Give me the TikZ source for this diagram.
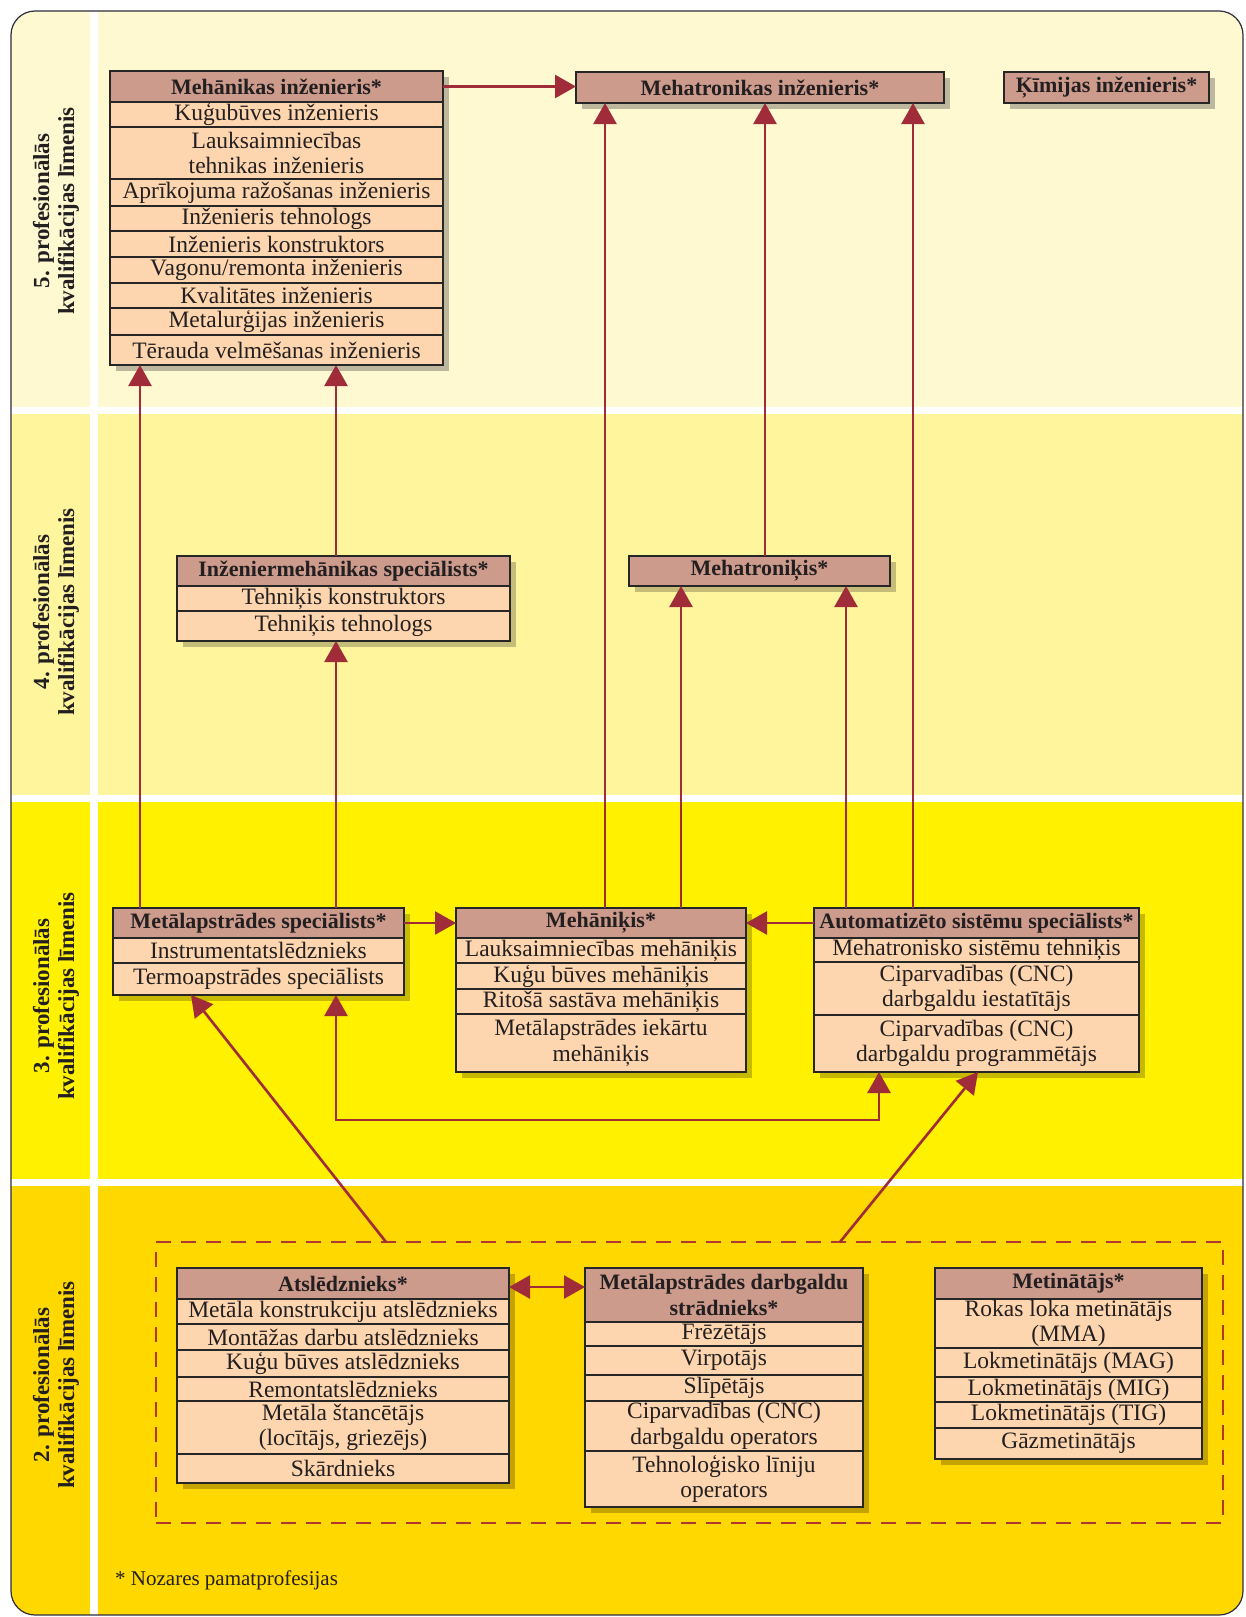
\documentclass[tikz,border=0pt]{standalone}
\usepackage{fontspec}
\setmainfont{Liberation Serif}
\usetikzlibrary{arrows.meta}
\definecolor{bandA}{HTML}{FFF9D2}
\definecolor{bandB}{HTML}{FFF59D}
\definecolor{bandC}{HTML}{FFF100}
\definecolor{bandD}{HTML}{FFD800}
\definecolor{shA}{HTML}{BDB89D}
\definecolor{shB}{HTML}{C6BC7A}
\definecolor{shC}{HTML}{C7B800}
\definecolor{shD}{HTML}{C5A300}
\definecolor{hdrc}{HTML}{CD9B8C}
\definecolor{rowc}{HTML}{FDD5AE}
\definecolor{arrc}{HTML}{A02B39}
\definecolor{dashc}{HTML}{B2372F}
\definecolor{txtc}{HTML}{231F20}
\definecolor{framec}{HTML}{2E2E3E}
\pgfdeclarelayer{bands}
\pgfdeclarelayer{shadows}
\pgfsetlayers{bands,shadows,main}
\newcommand{\cellbox}[7]{\node[#1, minimum width={#4-#3}, minimum height={#6-#5}] (#2) at ({(#3+#4)/2},{(#5+#6)/2}) {#7};}
\newcommand{\shadowbox}[3]{\fill[#1] ([shift={(6,6)}]#2.north west) rectangle ([shift={(6,6)}]#3.south east);}
\begin{document}
\begin{tikzpicture}[x=1pt,y=-1pt,
  cell/.style={draw=black!85, line width=1.3pt, inner sep=0pt, outer sep=0pt, align=center, text=txtc},
  hdr/.style={cell, fill=hdrc, font=\fontsize{22}{25.5}\selectfont\bfseries},
  row/.style={cell, fill=rowc, font=\fontsize{23.5}{25.5}\selectfont},
  lvl/.style={rotate=90, align=center, text=txtc, font=\fontsize{23}{25}\selectfont\bfseries},
  arr/.style={draw=arrc, line width=2.6pt, -{Triangle[length=21pt,width=23pt]}},
  darr/.style={draw=arrc, line width=2.6pt, {Triangle[length=21pt,width=23pt]}-{Triangle[length=21pt,width=23pt]}},
  dashbox/.style={draw=dashc, line width=2.5pt, dash pattern=on 15pt off 10pt, inner sep=0pt, outer sep=0pt},
  note/.style={text=txtc, font=\fontsize{21}{24}\selectfont, inner sep=0pt}
]
\useasboundingbox (0,0) rectangle (1245,1617);
% ---------------- bands ----------------
\begin{pgfonlayer}{bands}
\fill[white] (0,0) rectangle (1245,1617);
\begin{scope}
\clip[rounded corners=24pt] (11,11) rectangle (1243,1615);
\fill[bandA] (11,11) rectangle (90,407);
\fill[bandA] (97.5,11) rectangle (1243,407);
\fill[bandB] (11,414) rectangle (90,795);
\fill[bandB] (97.5,414) rectangle (1243,795);
\fill[bandC] (11,802) rectangle (90,1179);
\fill[bandC] (97.5,802) rectangle (1243,1179);
\fill[bandD] (11,1186) rectangle (90,1615);
\fill[bandD] (97.5,1186) rectangle (1243,1615);
\end{scope}
\draw[framec, line width=1.2pt, rounded corners=24pt] (11,11) rectangle (1243,1615);
\end{pgfonlayer}

% ---------------- level labels ----------------
\node[lvl] (l5) at (56,211) {5. profesionālās\\kvalifikācijas līmenis};
\node[lvl] (l4) at (56,612) {4. profesionālās\\kvalifikācijas līmenis};
\node[lvl] (l3) at (56,996) {3. profesionālās\\kvalifikācijas līmenis};
\node[lvl] (l2) at (56,1385) {2. profesionālās\\kvalifikācijas līmenis};

% ---------------- level 5 ----------------
\cellbox{hdr}{m5h}{110}{443}{71}{102}{Mehānikas inženieris*}
\cellbox{row}{m5r1}{110}{443}{102}{127}{Kuģubūves inženieris}
\cellbox{row}{m5r2}{110}{443}{127}{179}{Lauksaimniecības\\tehnikas inženieris}
\cellbox{row}{m5r3}{110}{443}{179}{206}{Aprīkojuma ražošanas inženieris}
\cellbox{row}{m5r4}{110}{443}{206}{231}{Inženieris tehnologs}
\cellbox{row}{m5r5}{110}{443}{231}{257}{Inženieris konstruktors}
\cellbox{row}{m5r6}{110}{443}{257}{283}{Vagonu/remonta inženieris}
\cellbox{row}{m5r7}{110}{443}{283}{308}{Kvalitātes inženieris}
\cellbox{row}{m5r8}{110}{443}{308}{335}{Metalurģijas inženieris}
\cellbox{row}{m5r9}{110}{443}{335}{365}{Tērauda velmēšanas inženieris}
\cellbox{hdr}{mt5}{576}{944}{72}{103}{Mehatronikas inženieris*}
\cellbox{hdr}{km5}{1004}{1209}{72}{103}{Ķīmijas inženieris*}

% ---------------- level 4 ----------------
\cellbox{hdr}{im4h}{177}{510}{556}{586}{Inženiermehānikas speciālists*}
\cellbox{row}{im4r1}{177}{510}{586}{611}{Tehniķis konstruktors}
\cellbox{row}{im4r2}{177}{510}{611}{641}{Tehniķis tehnologs}
\cellbox{hdr}{mtk4}{629}{890}{556}{586}{Mehatroniķis*}

% ---------------- level 3 ----------------
\cellbox{hdr}{ms3h}{113}{404}{908}{938}{Metālapstrādes speciālists*}
\cellbox{row}{ms3r1}{113}{404}{938}{963}{Instrumentatslēdznieks}
\cellbox{row}{ms3r2}{113}{404}{963}{995}{Termoapstrādes speciālists}
\cellbox{hdr}{me3h}{456}{746}{908}{938}{Mehāniķis*}
\cellbox{row}{me3r1}{456}{746}{938}{963}{Lauksaimniecības mehāniķis}
\cellbox{row}{me3r2}{456}{746}{963}{989}{Kuģu būves mehāniķis}
\cellbox{row}{me3r3}{456}{746}{989}{1014}{Ritošā sastāva mehāniķis}
\cellbox{row}{me3r4}{456}{746}{1014}{1072}{Metālapstrādes iekārtu\\mehāniķis}
\cellbox{hdr}{au3h}{814}{1139}{908}{938}{Automatizēto sistēmu speciālists*}
\cellbox{row}{au3r1}{814}{1139}{938}{962}{Mehatronisko sistēmu tehniķis}
\cellbox{row}{au3r2}{814}{1139}{962}{1015}{Ciparvadības (CNC)\\darbgaldu iestatītājs}
\cellbox{row}{au3r3}{814}{1139}{1015}{1072}{Ciparvadības (CNC)\\darbgaldu programmētājs}

% ---------------- level 2 ----------------
\node[dashbox, minimum width=1067, minimum height=281] (grp) at (689.5,1382.5) {};
\cellbox{hdr}{at2h}{177}{509}{1268}{1299}{Atslēdznieks*}
\cellbox{row}{at2r1}{177}{509}{1299}{1324}{Metāla konstrukciju atslēdznieks}
\cellbox{row}{at2r2}{177}{509}{1324}{1350}{Montāžas darbu atslēdznieks}
\cellbox{row}{at2r3}{177}{509}{1350}{1377}{Kuģu būves atslēdznieks}
\cellbox{row}{at2r4}{177}{509}{1377}{1401}{Remontatslēdznieks}
\cellbox{row}{at2r5}{177}{509}{1401}{1454}{Metāla štancētājs\\(locītājs, griezējs)}
\cellbox{row}{at2r6}{177}{509}{1454}{1483}{Skārdnieks}
\cellbox{hdr}{dg2h}{585}{863}{1268}{1322}{Metālapstrādes darbgaldu\\strādnieks*}
\cellbox{row}{dg2r1}{585}{863}{1322}{1346}{Frēzētājs}
\cellbox{row}{dg2r2}{585}{863}{1346}{1375}{Virpotājs}
\cellbox{row}{dg2r3}{585}{863}{1375}{1401}{Slīpētājs}
\cellbox{row}{dg2r4}{585}{863}{1401}{1451}{Ciparvadības (CNC)\\darbgaldu operators}
\cellbox{row}{dg2r5}{585}{863}{1451}{1507}{Tehnoloģisko līniju\\operators}
\cellbox{hdr}{mn2h}{935}{1202}{1268}{1299}{Metinātājs*}
\cellbox{row}{mn2r1}{935}{1202}{1299}{1348}{Rokas loka metinātājs\\(MMA)}
\cellbox{row}{mn2r2}{935}{1202}{1348}{1377}{Lokmetinātājs (MAG)}
\cellbox{row}{mn2r3}{935}{1202}{1377}{1402}{Lokmetinātājs (MIG)}
\cellbox{row}{mn2r4}{935}{1202}{1402}{1428}{Lokmetinātājs (TIG)}
\cellbox{row}{mn2r5}{935}{1202}{1428}{1459}{Gāzmetinātājs}

\node[note, anchor=base west] (fn) at (115,1585) {* Nozares pamatprofesijas};

% ---------------- shadows ----------------
\begin{pgfonlayer}{shadows}
\shadowbox{shA}{m5h}{m5r9}
\shadowbox{shA}{mt5}{mt5}
\shadowbox{shA}{km5}{km5}
\shadowbox{shB}{im4h}{im4r2}
\shadowbox{shB}{mtk4}{mtk4}
\shadowbox{shC}{ms3h}{ms3r2}
\shadowbox{shC}{me3h}{me3r4}
\shadowbox{shC}{au3h}{au3r3}
\shadowbox{shD}{at2h}{at2r6}
\shadowbox{shD}{dg2h}{dg2r5}
\shadowbox{shD}{mn2h}{mn2r5}
\end{pgfonlayer}

% ---------------- connectors ----------------
\coordinate (c1) at (140,0);
\coordinate (c2) at (336,0);
\coordinate (c3) at (605,0);
\coordinate (c4) at (681,0);
\coordinate (c5) at (765,0);
\coordinate (c6) at (846,0);
\coordinate (c7) at (913,0);
\coordinate (e1) at (336,1120);
\coordinate (e2) at (879,1120);
\coordinate (d1) at (386,0);
\coordinate (d2) at (840,0);
\coordinate (t1) at (191,0);
\coordinate (t2) at (978,0);
\coordinate (b1) at (0,1287);

\draw[arr] (m5h.east) -- (m5h.east -| mt5.west);
\draw[arr] (ms3h.north -| c1) -- (m5r9.south -| c1);
\draw[arr] (ms3h.north -| c2) -- (im4r2.south -| c2);
\draw[arr] (im4h.north -| c2) -- (m5r9.south -| c2);
\draw[arr] (me3h.north -| c3) -- (mt5.south -| c3);
\draw[arr] (me3h.north -| c4) -- (mtk4.south -| c4);
\draw[arr] (mtk4.north -| c5) -- (mt5.south -| c5);
\draw[arr] (au3h.north -| c6) -- (mtk4.south -| c6);
\draw[arr] (au3h.north -| c7) -- (mt5.south -| c7);
\draw[arr] (ms3h.east) -- (ms3h.east -| me3h.west);
\draw[arr] (au3h.west) -- (au3h.west -| me3h.east);
\draw[darr] (ms3r2.south -| e1) -- (e1) -- (e2) -- (au3r3.south -| e2);
\draw[arr] (grp.north -| d1) -- (ms3r2.south -| t1);
\draw[arr] (grp.north -| d2) -- (au3r3.south -| t2);
\draw[darr] (at2h.east |- b1) -- (dg2h.west |- b1);
\end{tikzpicture}
\end{document}
